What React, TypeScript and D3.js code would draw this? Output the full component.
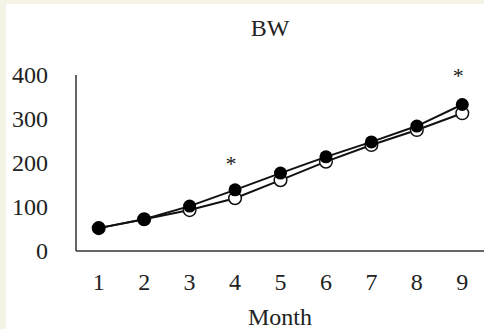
import React from 'react';
import * as d3 from 'd3';

const months = ['1', '2', '3', '4', '5', '6', '7', '8', '9'];
const filledValues = [52, 72, 102, 139, 177, 214, 248, 284, 333];
const openValues = [52, 72, 93, 120, 161, 203, 241, 275, 313];
const yTicks = [0, 100, 200, 300, 400];
const starMonths = ['4', '9'];
const starValues = [190, 390];

const W = 484;
const H = 329;
const font = '"Liberation Serif", "Times New Roman", serif';

const App = () => {
  const x = d3.scaleBand().domain(months).range([76, 485]).padding(0);
  const y = d3.scaleLinear().domain([0, 400]).range([251, 75]);
  const cx = (m: string) => (x(m) ?? 0) + x.bandwidth() / 2;

  const line = d3
    .line<number>()
    .x((_, i) => cx(months[i]))
    .y((d) => y(d));

  return (
    <svg
      width={W}
      height={H}
      style={{ position: 'absolute', left: 0, top: 0, background: '#f5f3e6' }}
    >
      <rect x={6} y={4} width={W - 6} height={H - 4} fill="#fff" />
      <text x={270} y={36} textAnchor="middle" fontFamily={font} fontSize={24} fill="#222">
        BW
      </text>

      {/* y axis */}
      <line x1={76} x2={76} y1={y(400)} y2={y(0)} stroke="#333" strokeWidth={1.5} />
      {yTicks.map((t) => (
        <text key={t} x={48} y={y(t) + 8} textAnchor="end" fontFamily={font} fontSize={24} fill="#222">
          {t}
        </text>
      ))}

      {/* x axis */}
      <line x1={76} x2={485} y1={y(0)} y2={y(0)} stroke="#333" strokeWidth={1.5} />
      {months.map((m) => (
        <text key={m} x={cx(m)} y={290} textAnchor="middle" fontFamily={font} fontSize={24} fill="#222">
          {m}
        </text>
      ))}
      <text x={280} y={325} textAnchor="middle" fontFamily={font} fontSize={24} fill="#222">
        Month
      </text>

      {/* open series */}
      <path d={line(openValues) ?? ''} fill="none" stroke="#111" strokeWidth={2} />
      {openValues.map((v, i) => (
        <circle key={'o' + i} cx={cx(months[i])} cy={y(v)} r={6.3} fill="#fff" stroke="#111" strokeWidth={1.5} />
      ))}

      {/* filled series */}
      <path d={line(filledValues) ?? ''} fill="none" stroke="#111" strokeWidth={2} />
      {filledValues.map((v, i) => (
        <circle key={'f' + i} cx={cx(months[i])} cy={y(v)} r={6.5} fill="#000" />
      ))}

      {starMonths.map((m, i) => (
        <text key={m} x={cx(m) - 4} y={y(starValues[i]) + 4} textAnchor="middle" fontFamily={font} fontSize={22} fill="#222">
          *
        </text>
      ))}
    </svg>
  );
};

export default App;
